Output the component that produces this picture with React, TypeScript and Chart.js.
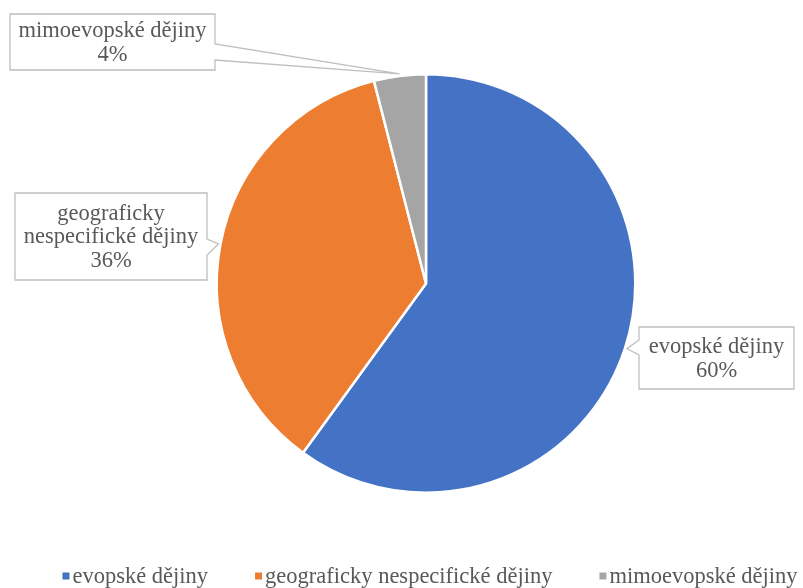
import { useEffect, useRef } from "react";
import { Chart, registerables } from "chart.js";

Chart.register(...registerables);

const categories = ["evopské dějiny", "geograficky nespecifické dějiny", "mimoevopské dějiny"];
const shares = [60, 36, 4];
const labelLines = [
  ["evopské dějiny", "60%"],
  ["geograficky", "nespecifické dějiny", "36%"],
  ["mimoevopské dějiny", "4%"],
];
const colors = ["#4472C4", "#ED7D31", "#A5A5A5"];

const FONT = "'Liberation Serif', 'Times New Roman', serif";
const TEXT_COLOR = "#595959";
const BORDER_COLOR = "#BFBFBF";
const FONT_SIZE = 22.5;

// callout box layout (canvas px) and where the pointer leaves the box
const callouts = [
  { x: 639, y: 327, w: 155, h: 62, side: "left", b0: 13, b1: 28 },
  { x: 15, y: 193, w: 192, h: 87, side: "right", b0: 46, b1: 62 },
  { x: 10, y: 14, w: 205, h: 56, side: "right", b0: 30, b1: 46 },
];

const calloutPlugin = {
  id: "callouts",
  afterDatasetsDraw(chart: any) {
    const ctx = chart.ctx as CanvasRenderingContext2D;
    const meta = chart.getDatasetMeta(0);
    meta.data.forEach((arc: any, i: number) => {
      const p = arc.getProps(["x", "y", "startAngle", "endAngle", "outerRadius"], true);
      const mid = (p.startAngle + p.endAngle) / 2;
      const tx = p.x + Math.cos(mid) * (p.outerRadius + 2);
      const ty = p.y + Math.sin(mid) * (p.outerRadius + 2);
      const c = callouts[i];
      const ex = c.side === "left" ? c.x : c.x + c.w;
      ctx.save();
      ctx.lineWidth = 1.3;
      ctx.strokeStyle = BORDER_COLOR;
      ctx.fillStyle = "#FFFFFF";
      ctx.beginPath();
      if (c.side === "left") {
        ctx.moveTo(c.x, c.y);
        ctx.lineTo(c.x + c.w, c.y);
        ctx.lineTo(c.x + c.w, c.y + c.h);
        ctx.lineTo(c.x, c.y + c.h);
        ctx.lineTo(c.x, c.y + c.b1);
        ctx.lineTo(tx, ty);
        ctx.lineTo(c.x, c.y + c.b0);
        ctx.closePath();
      } else {
        ctx.moveTo(c.x, c.y);
        ctx.lineTo(c.x + c.w, c.y);
        ctx.lineTo(ex, c.y + c.b0);
        ctx.lineTo(tx, ty);
        ctx.lineTo(ex, c.y + c.b1);
        ctx.lineTo(c.x + c.w, c.y + c.h);
        ctx.lineTo(c.x, c.y + c.h);
        ctx.closePath();
      }
      ctx.fill();
      ctx.stroke();
      const lines = labelLines[i];
      const lh = 23.5;
      ctx.fillStyle = TEXT_COLOR;
      ctx.font = `${FONT_SIZE}px ${FONT}`;
      ctx.textAlign = "center";
      ctx.textBaseline = "middle";
      const cx = c.x + c.w / 2;
      const cy = c.y + c.h / 2;
      lines.forEach((ln, k) => {
        ctx.fillText(ln, cx, cy + (k - (lines.length - 1) / 2) * lh + 1);
      });
      ctx.restore();
    });
  },
};

const legendPlugin = {
  id: "customLegend",
  afterDraw(chart: any) {
    const ctx = chart.ctx as CanvasRenderingContext2D;
    ctx.save();
    ctx.font = `${FONT_SIZE}px ${FONT}`;
    const sq = 7;
    const gap = 3;
    const itemGap = 47;
    const widths = categories.map((t) => sq + gap + ctx.measureText(t).width);
    const total = widths.reduce((a, b) => a + b, 0) + itemGap * (categories.length - 1);
    const centerX = (chart.chartArea.left + chart.chartArea.right) / 2 + 4;
    let x = centerX - total / 2;
    const y = chart.height - 12;
    categories.forEach((t, i) => {
      ctx.fillStyle = colors[i];
      ctx.fillRect(x, y - sq / 2, sq, sq);
      ctx.fillStyle = TEXT_COLOR;
      ctx.textAlign = "left";
      ctx.textBaseline = "middle";
      ctx.fillText(t, x + sq + gap, y + 1);
      x += widths[i] + itemGap;
    });
    ctx.restore();
  },
};

export default function App() {
  const ref = useRef<HTMLCanvasElement | null>(null);
  useEffect(() => {
    if (!ref.current) return;
    const chart = new Chart(ref.current, {
      type: "pie",
      data: {
        labels: categories,
        datasets: [
          {
            data: shares,
            backgroundColor: colors,
            borderColor: "#FFFFFF",
            borderWidth: 2.5,
            hoverOffset: 0,
          },
        ],
      },
      options: {
        animation: false,
        responsive: false,
        maintainAspectRatio: false,
        layout: { padding: { top: 73, bottom: 94, left: 49, right: 0 } },
        plugins: {
          legend: { display: false },
          tooltip: { enabled: false },
        },
      },
      plugins: [calloutPlugin, legendPlugin],
    });
    return () => chart.destroy();
  }, []);
  return (
    <div style={{ position: "fixed", left: 0, top: 0, width: 803, height: 588, background: "#fff" }}>
      <canvas ref={ref} width={803} height={588} style={{ width: 803, height: 588 }} />
    </div>
  );
}
